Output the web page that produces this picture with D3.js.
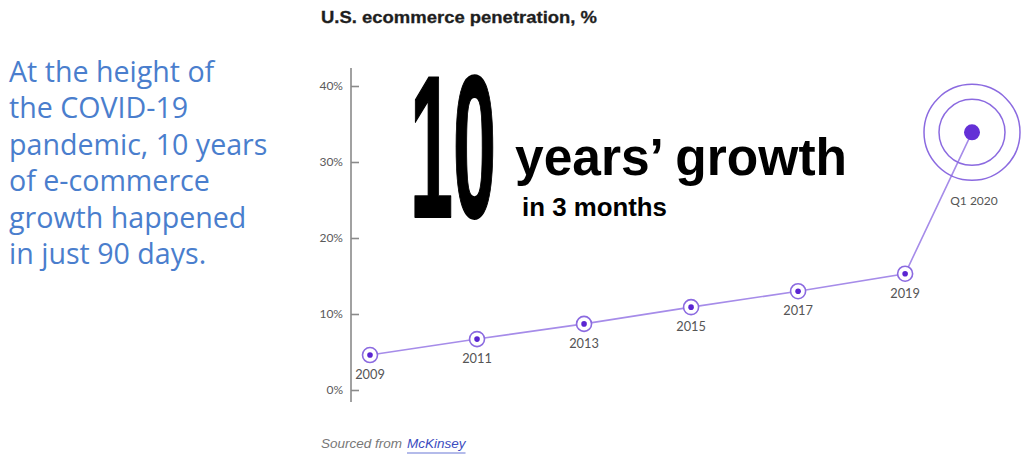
<!DOCTYPE html>
<html>
<head>
<meta charset="utf-8">
<script src="https://cdn.jsdelivr.net/npm/d3@7"></script>
<style>
  html, body { margin: 0; padding: 0; background: #fff; }
  svg { display: block; }
</style>
</head>
<body>
<svg id="chart" width="1024" height="460"></svg>
<script>
// ---- data ----
const periodLabels = ["2009", "2011", "2013", "2015", "2017", "2019", "Q1 2020"];
const periodTimes  = [2009, 2011, 2013, 2015, 2017, 2019, 2020.25];
const penetration  = [4.6, 6.7, 8.7, 10.9, 13.0, 15.3, 33.9];
const yTicks       = [0, 10, 20, 30, 40];
const sideLines = [
  "At the height of",
  "the COVID-19",
  "pandemic, 10 years",
  "of e-commerce",
  "growth happened",
  "in just 90 days."
];

const svg = d3.select("#chart");
const x = d3.scaleLinear().domain([2009, 2020.25]).range([370, 972]);
const y = d3.scaleLinear().domain([0, 40]).range([390, 86]);

const purpleLine = "#a68ce9";
const purpleRing = "#8b6ae0";
const purpleDot  = "#5b25d2";

// side text
const side = svg.append("text")
  .attr("font-family", "'Open Sans', 'Noto Sans', sans-serif")
  .attr("font-size", 28.6)
  .attr("fill", "#4a7ecd");
sideLines.forEach((t, i) => {
  side.append("tspan").attr("x", 9).attr("y", 82 + i * 36.4).text(t);
});

// title
svg.append("text")
  .attr("x", 321).attr("y", 22.5)
  .attr("font-family", "'Liberation Sans', Arial, sans-serif")
  .attr("font-weight", "bold")
  .attr("font-size", 17)
  .attr("fill", "#1e1e1e")
  .attr("stroke", "#1e1e1e").attr("stroke-width", 0.3)
  .attr("textLength", 276)
  .attr("lengthAdjust", "spacingAndGlyphs")
  .text("U.S. ecommerce penetration, %");

// y axis
const axisG = svg.append("g").attr("transform", "translate(351,0)");
axisG.call(d3.axisLeft(y).tickValues(yTicks).tickSizeInner(-8).tickSizeOuter(0).tickPadding(8)
  .tickFormat(d => d + "%"));
axisG.select(".domain").remove();
axisG.append("line").attr("x1", 0).attr("x2", 0).attr("y1", 68).attr("y2", 402);
axisG.selectAll("line").attr("stroke", "#8a8a8a").attr("stroke-width", 1.6);
axisG.selectAll("text")
  .attr("font-family", "Lato, 'Liberation Sans', sans-serif")
  .attr("font-size", 12)
  .attr("fill", "#5a5a5a");

// big annotation
svg.append("text")
  .attr("x", 410).attr("y", 217)
  .attr("font-family", "'Liberation Sans', Arial, sans-serif")
  .attr("font-weight", "bold")
  .attr("font-size", 202)
  .attr("fill", "#000")
  .attr("stroke", "#000").attr("stroke-width", 2).attr("stroke-linejoin", "round")
  .attr("textLength", 86)
  .attr("lengthAdjust", "spacingAndGlyphs")
  .text("10");
svg.append("text")
  .attr("x", 515).attr("y", 175)
  .attr("font-family", "'Liberation Sans', Arial, sans-serif")
  .attr("font-weight", "bold")
  .attr("font-size", 51)
  .attr("fill", "#000")
  .attr("textLength", 332)
  .attr("lengthAdjust", "spacingAndGlyphs")
  .text("years\u2019 growth");
svg.append("text")
  .attr("x", 522).attr("y", 216)
  .attr("font-family", "'Liberation Sans', Arial, sans-serif")
  .attr("font-weight", "bold")
  .attr("font-size", 26)
  .attr("fill", "#000")
  .attr("textLength", 145)
  .attr("lengthAdjust", "spacingAndGlyphs")
  .text("in 3 months");

// data
const pts = periodTimes.map((t, i) => ({ t, v: penetration[i], label: periodLabels[i], last: i === periodTimes.length - 1 }));

svg.append("path")
  .datum(pts)
  .attr("fill", "none")
  .attr("stroke", purpleLine)
  .attr("stroke-width", 1.6)
  .attr("d", d3.line().x(d => x(d.t)).y(d => y(d.v)));

const regular = pts.filter(d => !d.last);
const last = pts[pts.length - 1];

svg.selectAll("circle.outer").data(regular).join("circle")
  .attr("class", "outer")
  .attr("cx", d => x(d.t)).attr("cy", d => y(d.v)).attr("r", 7.5)
  .attr("fill", "#fff").attr("stroke", purpleRing).attr("stroke-width", 1.6);
svg.selectAll("circle.inner").data(regular).join("circle")
  .attr("class", "inner")
  .attr("cx", d => x(d.t)).attr("cy", d => y(d.v)).attr("r", 2.8)
  .attr("fill", purpleDot);

[48, 33].forEach(r => {
  svg.append("circle")
    .attr("cx", x(last.t)).attr("cy", y(last.v)).attr("r", r)
    .attr("fill", "none").attr("stroke", purpleRing).attr("stroke-width", 1.5);
});
svg.append("circle")
  .attr("cx", x(last.t)).attr("cy", y(last.v)).attr("r", 8)
  .attr("fill", "#6430d6");

svg.selectAll("text.plabel").data(pts).join("text")
  .attr("class", "plabel")
  .attr("x", d => d.last ? x(d.t) + 2 : x(d.t))
  .attr("y", d => d.last ? y(d.v) + 73 : y(d.v) + 24)
  .attr("text-anchor", "middle")
  .attr("font-family", "Lato, 'Liberation Sans', sans-serif")
  .attr("font-size", d => d.last ? 12 : 12.8)
  .attr("fill", "#555")
  .text(d => d.label);

// source
svg.append("text")
  .attr("x", 321).attr("y", 448)
  .attr("font-family", "'Liberation Sans', Arial, sans-serif")
  .attr("font-style", "italic")
  .attr("font-size", 13.5)
  .attr("fill", "#777")
  .text("Sourced from");
const mk = svg.append("text")
  .attr("x", 407).attr("y", 448)
  .attr("font-family", "'Liberation Sans', Arial, sans-serif")
  .attr("font-style", "italic")
  .attr("font-size", 13.5)
  .attr("fill", "#3b4cc0")
  .text("McKinsey");
const mkw = mk.node().getComputedTextLength();
svg.append("line")
  .attr("x1", 407).attr("x2", 407 + mkw)
  .attr("y1", 453).attr("y2", 453)
  .attr("stroke", "#6a78d6").attr("stroke-width", 1.2);
</script>
</body>
</html>
